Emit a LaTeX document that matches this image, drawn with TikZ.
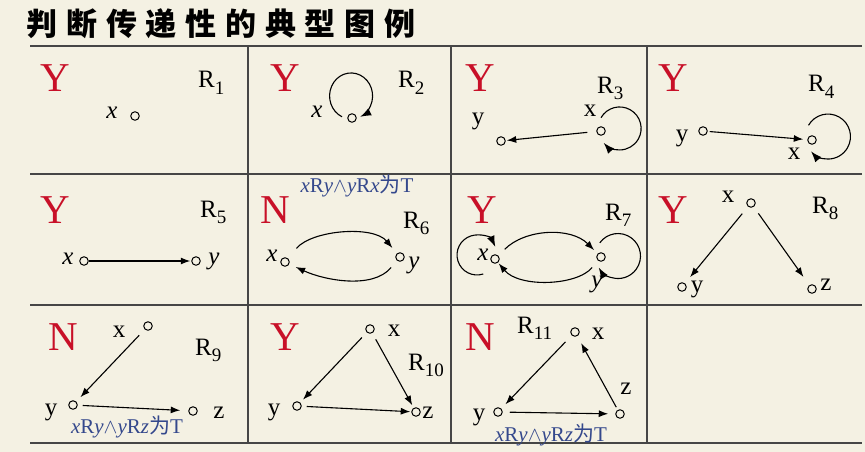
\documentclass[tikz,border=0pt]{standalone}
\usepackage{fontspec}
\setmainfont{Liberation Serif}
\newfontfamily\cjk{Noto Sans CJK SC}
\usetikzlibrary{arrows.meta}
\definecolor{bg}{RGB}{244,241,227}
\definecolor{yred}{RGB}{200,16,40}
\definecolor{nblue}{RGB}{52,72,140}
\definecolor{rulec}{RGB}{70,70,70}
\newcommand\mkrel[1]{R\raisebox{-6.5pt}{\fontsize{19}{19}\selectfont#1}}
\newcommand\noteyx{\textit{x}R\textit{y}$\wedge$\textit{y}R\textit{x}{\cjk 为}T}
\newcommand\noteyz{\textit{x}R\textit{y}$\wedge$\textit{y}R\textit{z}{\cjk 为}T}
\begin{document}
\begin{tikzpicture}[x=1pt,y=1pt,
  pt/.style={circle,draw,inner sep=0pt,minimum size=8.5pt,line width=1pt},
  lab/.style={inner sep=0pt,font=\fontsize{25}{25}\selectfont},
  ilab/.style={inner sep=0pt,font=\fontsize{25}{25}\selectfont\itshape},
  verdict/.style={anchor=base west,inner sep=0pt,text=yred,font=\fontsize{41}{41}\selectfont},
  rel/.style={anchor=base west,inner sep=0pt,font=\fontsize{25}{25}\selectfont},
  note/.style={inner sep=0pt,text=nblue,font=\fontsize{21}{21}\selectfont},
  arr/.style={-{Latex[length=9.5pt,width=7pt]},line width=1.1pt},
  looparr/.style={-{Latex[length=11pt,width=8pt]},line width=1.1pt},
  grid/.style={draw=rulec,line width=1.4pt},
  ]
\fill[bg] (0,0) rectangle (865,-452);
\useasboundingbox (0,0) rectangle (865,-452);

% title
\node[font=\fontsize{31}{31}\selectfont\cjk\bfseries] (title) at (221,-24)
  {判\hspace{8.7pt}断\hspace{8.7pt}传\hspace{8.7pt}递\hspace{8.7pt}性\hspace{8.7pt}的\hspace{8.7pt}典\hspace{8.7pt}型\hspace{8.7pt}图\hspace{8.7pt}例};

% table
\foreach \yy in {-46,-174,-305,-443} \draw[grid] (30,\yy) -- (862,\yy);
\foreach \xx in {248,451,647} \draw[grid] (\xx,-46) -- (\xx,-443);

% R1
\node[verdict] (v1) at (40,-92) {Y};
\node[rel] (r1) at (198,-88) {\mkrel{1}};
\node[pt] (a1) at (135,-116) {};
\node[ilab] (lx1) at (112,-113) {x};

% R2
\node[verdict] (v2) at (270,-92) {Y};
\node[rel] (r2) at (398,-88) {\mkrel{2}};
\node[pt] (a2) at (352,-118) {};
\node[ilab] (lx2) at (317,-112) {x};
\draw[looparr] ([shift={(-10,1.2)}]a2.center) arc[start angle=245,end angle=-65,x radius=21.5,y radius=23];

% R3
\node[verdict] (v3) at (465,-92) {Y};
\node[rel] (r3) at (597,-93) {\mkrel{3}};
\node[pt] (a3) at (601,-131) {};
\node[lab] (lx3) at (590,-111) {x};
\node[pt] (b3) at (501,-141) {};
\node[lab] (ly3) at (478,-121) {y};
\draw[arr,shorten <=9pt,shorten >=1pt] (a3) -- (b3);
\draw[looparr] ([shift={(0,13.3)}]a3.center) arc[start angle=150,end angle=-138,radius=21.5];

% R4
\node[verdict] (v4) at (658,-92) {Y};
\node[rel] (r4) at (808,-92) {\mkrel{4}};
\node[pt] (b4) at (703,-131) {};
\node[lab] (ly4) at (682,-138) {y};
\node[pt] (a4) at (812,-140) {};
\node[lab] (lx4) at (794,-154) {x};
\draw[arr,shorten <=2pt,shorten >=4pt] (b4) -- (a4);
\draw[looparr] ([shift={(-3.5,14.7)}]a4.center) arc[start angle=150,end angle=-139,radius=22.5];

% R5
\node[verdict] (v5) at (40,-223) {Y};
\node[rel] (r5) at (200,-217) {\mkrel{5}};
\node[pt] (a5) at (84,-261) {};
\node[ilab] (lx5) at (68,-259) {x};
\node[pt] (b5) at (196,-261) {};
\node[ilab] (ly5) at (214,-261) {y};
\draw[arr,shorten <=0.5pt,shorten >=1pt] (a5) -- (b5);

% R6
\node[verdict] (v6) at (260,-223) {N};
\node[note] (n6) at (357,-186) {\noteyx};
\node[rel] (r6) at (403,-228) {\mkrel{6}};
\node[pt] (a6) at (285,-262) {};
\node[ilab] (lx6) at (272,-256) {x};
\node[pt] (b6) at (400,-257) {};
\node[ilab] (ly6) at (414,-265) {y};
\draw[arr,shorten <=13pt,shorten >=7pt] (a6) to[out=50,in=130,distance=37] (b6);
\draw[arr,shorten <=9pt,shorten >=7pt] (b6) to[out=230,in=-25,distance=38] (a6);

% R7
\node[verdict] (v7) at (467,-223) {Y};
\node[rel] (r7) at (605,-220) {\mkrel{7}};
\node[pt] (a7) at (495,-259) {};
\node[ilab] (lx7) at (483,-255) {x};
\node[pt] (b7) at (601,-257) {};
\node[ilab] (ly7) at (597,-284) {y};
\draw[arr,shorten <=9pt,shorten >=5pt] (a7) to[out=45,in=135,distance=38] (b7);
\draw[arr,shorten <=9pt,shorten >=1pt] (b7) to[out=230,in=-50,distance=33] (a7);
\draw[looparr] ([shift={(-11.8,-15)}]a7.center) arc[start angle=288,end angle=24,radius=20];
\draw[looparr] ([shift={(-1.2,14.2)}]b7.center) arc[start angle=144,end angle=-149,radius=22.5];

% R8
\node[verdict] (v8) at (658,-223) {Y};
\node[rel] (r8) at (812,-213) {\mkrel{8}};
\node[pt] (a8) at (751,-203) {};
\node[lab] (lx8) at (728,-197) {x};
\node[pt] (b8) at (682,-287) {};
\node[lab] (ly8) at (697,-289) {y};
\node[pt] (c8) at (812,-289) {};
\node[lab] (lz8) at (826,-285) {z};
\draw[arr,shorten <=9pt,shorten >=8pt] (a8) -- (b8);
\draw[arr,shorten <=8pt,shorten >=10pt] (a8) -- (c8);

% R9
\node[verdict] (v9) at (48,-350) {N};
\node[pt] (a9) at (148,-326) {};
\node[lab] (lx9) at (119,-332) {x};
\node[rel] (r9) at (195,-355) {\mkrel{9}};
\node[pt] (b9) at (73,-405) {};
\node[lab] (ly9) at (51,-412) {y};
\node[pt] (c9) at (193,-411) {};
\node[lab] (lz9) at (219,-413) {z};
\node[note] (n9) at (127,-427) {\noteyz};
\draw[arr,shorten <=8pt,shorten >=6pt] (a9) -- (b9);
\draw[arr,shorten <=5pt,shorten >=8pt] (b9) -- (c9);

% R10
\node[verdict] (v10) at (270,-350) {Y};
\node[pt] (a10) at (370,-329) {};
\node[lab] (lx10) at (394,-331) {x};
\node[rel] (r10) at (408,-370) {\mkrel{10}};
\node[pt] (b10) at (297,-406) {};
\node[lab] (ly10) at (274,-412) {y};
\node[pt] (c10) at (416,-412) {};
\node[lab] (lz10) at (428,-413) {z};
\draw[arr,shorten <=7pt,shorten >=4pt] (a10) -- (b10);
\draw[arr,shorten <=7pt,shorten >=3pt] (a10) -- (c10);
\draw[arr,shorten <=5pt,shorten >=1pt] (b10) -- (c10);

% R11
\node[verdict] (v11) at (465,-350) {N};
\node[rel] (r11) at (517,-333) {\mkrel{11}};
\node[pt] (a11) at (575,-332) {};
\node[lab] (lx11) at (598,-334) {x};
\node[pt] (b11) at (498,-412) {};
\node[lab] (ly11) at (479,-417) {y};
\node[pt] (c11) at (620,-414) {};
\node[lab] (lz11) at (626,-389) {z};
\node[note] (n11) at (551,-435) {\noteyz};
\draw[arr,shorten <=9pt,shorten >=6pt] (a11) -- (b11);
\draw[arr,shorten <=3pt,shorten >=8pt] (c11) -- (a11);
\draw[arr,shorten <=7pt,shorten >=7pt] (b11) -- (c11);
\end{tikzpicture}
\end{document}
